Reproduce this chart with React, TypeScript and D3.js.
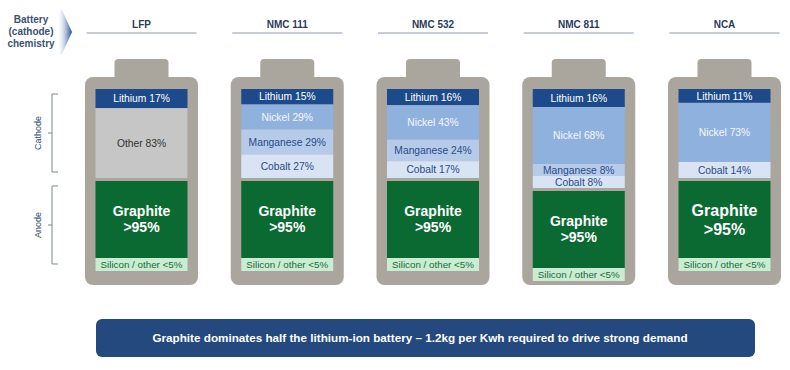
import React from 'react';
import * as d3 from 'd3';

const chemistries = ['LFP', 'NMC 111', 'NMC 532', 'NMC 811', 'NCA'];
const lithium = [17, 15, 16, 16, 11];
const other = [83, 0, 0, 0, 0];
const nickel = [0, 29, 43, 68, 73];
const manganese = [0, 29, 24, 8, 0];
const cobalt = [0, 27, 17, 8, 14];
const graphiteText = ['Graphite', '>95%'];
const siliconText = 'Silicon / other <5%';
const axisTitle = ['Battery', '(cathode)', 'chemistry'];
const banner = 'Graphite dominates half the lithium-ion battery \u2013 1.2kg per Kwh required to drive strong demand';

const keys = ['Lithium', 'Other', 'Nickel', 'Manganese', 'Cobalt'];
const fills: Record<string, string> = {
  Lithium: '#1d4a8a',
  Other: '#c6c6c6',
  Nickel: '#8fb1de',
  Manganese: '#b5cbe9',
  Cobalt: '#d8e3f3',
};
const inks: Record<string, string> = {
  Lithium: '#ffffff',
  Other: '#333333',
  Nickel: '#f4f7fc',
  Manganese: '#2c4c86',
  Cobalt: '#2c4c86',
};

const rows = chemistries.map((c, i) => ({
  name: c,
  Lithium: lithium[i],
  Other: other[i],
  Nickel: nickel[i],
  Manganese: manganese[i],
  Cobalt: cobalt[i],
}));

const W = 790;
const H = 370;
const font = '"Liberation Sans", Arial, sans-serif';

// each band gets a small floor, and a column grows if a band would be too thin for its label
const FLOOR = 8;
const MIN_BAND = 12;

const App: React.FC = () => {
  const x = d3.scalePoint<string>().domain(chemistries).range([141.5, 724.5]);

  const bodyW = 113;
  const innerW = 92;
  const tabW = 54;
  const bodyTop = 77;
  const bodyBottom = 285;
  const cathodeTop = 89;
  const cathodeH = 89;
  const gap = 3;
  const graphiteH = 77;
  const siliconH = 13;

  return (
    <svg
      width={W}
      height={H}
      style={{ position: 'absolute', left: 0, top: 0, background: '#fff' }}
      fontFamily={font}
    >
      <defs>
        <linearGradient id='chev' x1='0' x2='1' y1='0' y2='0'>
          <stop offset='0%' stopColor='#ffffff' stopOpacity={0.2} />
          <stop offset='100%' stopColor='#1d4a8a' />
        </linearGradient>
      </defs>

      {/* axis title + chevron */}
      <g>
        {axisTitle.map((t, i) => (
          <text
            key={t}
            x={31}
            y={19 + i * 12.3}
            dy='0.35em'
            textAnchor='middle'
            fontSize={10}
            fontWeight='bold'
            fill='#3b5274'
          >
            {t}
          </text>
        ))}
        <polygon points='58,10 62,10 72,32 62,54 58,54' fill='url(#chev)' />
      </g>

      {/* cathode / anode brackets */}
      {[
        { label: 'Cathode', top: 94, bottom: 172 },
        { label: 'Anode', top: 186, bottom: 264 },
      ].map((b) => {
        const mid = (b.top + b.bottom) / 2;
        return (
          <g key={b.label} stroke='#7a889e' strokeWidth={1} fill='none'>
            <path d={`M58,${b.top}H52V${b.bottom}H58M52,${mid}H48`} />
            <text
              transform={`translate(38,${mid}) rotate(-90)`}
              textAnchor='middle'
              dy='0.35em'
              fontSize={9}
              fill='#2d4a78'
              stroke='none'
            >
              {b.label}
            </text>
          </g>
        );
      })}

      {rows.map((r) => {
        const c = r.name;
        const cx = x(c) as number;
        const parts = keys
          .map((k) => ({ key: k, value: (r as any)[k] as number }))
          .filter((p) => p.value > 0);
        const weights = parts.map((p) => p.value + FLOOR);
        const ends = d3.cumsum(weights);
        const total = d3.sum(weights);
        const perUnit = Math.max(cathodeH / total, MIN_BAND / (d3.min(weights) as number));
        const cathodeBottom = cathodeTop + total * perUnit;
        const y = d3.scaleLinear().domain([0, total]).range([cathodeTop, cathodeBottom]);
        const gTop = cathodeBottom + gap;
        const sTop = gTop + graphiteH;
        const big = c === 'NCA';
        return (
          <g key={c}>
            <text
              x={cx}
              y={24}
              dy='0.35em'
              textAnchor='middle'
              fontSize={10}
              fontWeight='bold'
              fill='#2b3b5c'
            >
              {c}
            </text>
            <line x1={cx - 55} x2={cx + 55} y1={33} y2={33} stroke='#8a9ab2' strokeWidth={1} />

            <rect x={cx - tabW / 2} y={59} width={tabW} height={24} rx={4} fill='#aaa59d' />
            <rect
              x={cx - bodyW / 2}
              y={bodyTop}
              width={bodyW}
              height={bodyBottom - bodyTop}
              rx={8}
              fill='#aaa59d'
            />

            {parts.map((p, k) => {
              const y0 = y(ends[k] - weights[k]);
              const y1 = y(ends[k]);
              return (
                <g key={p.key}>
                  <rect x={cx - innerW / 2} y={y0} width={innerW} height={y1 - y0} fill={fills[p.key]} />
                  <text
                    x={cx}
                    y={(y0 + y1) / 2}
                    dy='0.35em'
                    textAnchor='middle'
                    fontSize={10.3}
                    fill={inks[p.key]}
                  >
                    {`${p.key} ${p.value}%`}
                  </text>
                </g>
              );
            })}

            <rect x={cx - innerW / 2} y={gTop} width={innerW} height={graphiteH} fill='#0b6a31' />
            {graphiteText.map((t, k) => (
              <text
                key={t}
                x={cx}
                y={gTop + graphiteH / 2 + (k - 0.5) * (big ? 19 : 16)}
                dy='0.35em'
                textAnchor='middle'
                fontSize={big ? 16 : 14}
                fontWeight='bold'
                fill='#ffffff'
              >
                {t}
              </text>
            ))}
            <rect x={cx - innerW / 2} y={sTop} width={innerW} height={siliconH} fill='#c9ecd2' />
            <text
              x={cx}
              y={sTop + siliconH / 2}
              dy='0.35em'
              textAnchor='middle'
              fontSize={9.8}
              fill='#1d6a3a'
            >
              {siliconText}
            </text>
          </g>
        );
      })}

      <rect x={96} y={319} width={659} height={38} rx={6} fill='#24497f' />
      <text
        x={420}
        y={338}
        dy='0.35em'
        textAnchor='middle'
        fontSize={11.7}
        fontWeight='bold'
        fill='#ffffff'
      >
        {banner}
      </text>
    </svg>
  );
};

export default App;
